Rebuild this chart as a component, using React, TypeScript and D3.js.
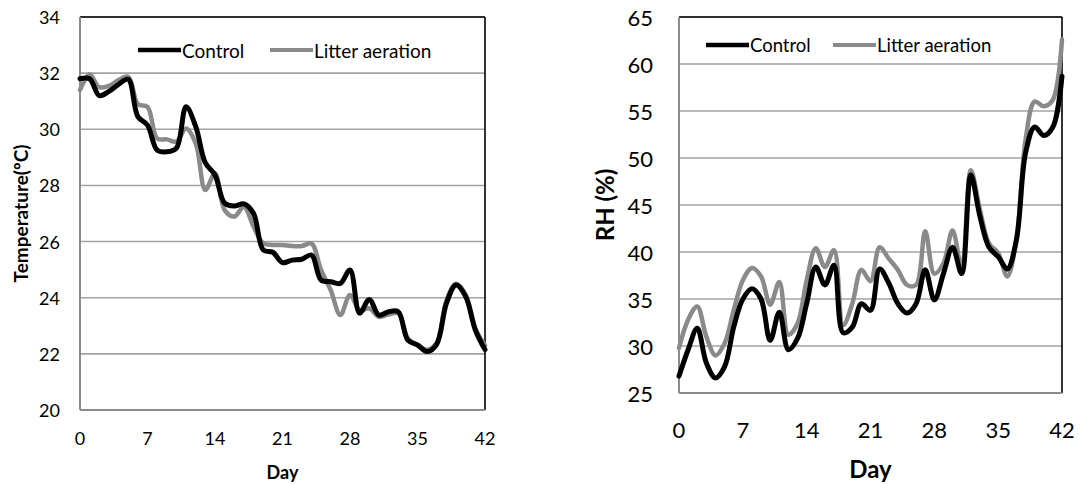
import React from "react";
import * as d3 from "d3";

const days: number[] = d3.range(0, 43);

const tempControl: number[] = [
  31.8, 31.8, 31.2, 31.35, 31.6, 31.78, 30.45, 30.15, 29.26, 29.2,
  29.33, 30.8, 30.1, 28.8, 28.37, 27.37, 27.27, 27.34, 27.0, 25.7,
  25.62, 25.25, 25.34, 25.37, 25.52, 24.63, 24.57, 24.51, 24.99, 23.45,
  23.94, 23.38, 23.5, 23.5, 22.49, 22.32, 22.08, 22.35, 23.8, 24.45,
  24.04, 22.85, 22.15,
];
const tempAeration: number[] = [
  31.4, 31.95, 31.5, 31.55, 31.75, 31.87, 30.9, 30.8, 29.67, 29.64,
  29.56, 30.03, 29.5, 27.84, 28.43, 27.12, 26.89, 27.24, 26.53, 25.94,
  25.88, 25.88, 25.84, 25.84, 25.93, 24.99, 24.27, 23.38, 24.1, 23.56,
  23.62, 23.32, 23.4, 23.45, 22.55, 22.3, 22.15, 22.4, 23.9, 24.5,
  24.1, 22.9, 22.3,
];
const rhControl: number[] = [
  26.8, 29.6, 31.9, 28.2, 26.6, 27.8, 32.0, 35.0, 36.1, 35.0,
  30.6, 33.6, 29.6, 30.8, 34.5, 38.4, 36.5, 38.6, 31.4, 32.0,
  34.5, 33.8, 38.2, 36.7, 34.5, 33.5, 34.5, 38.1, 34.9, 37.7,
  40.5, 37.7, 48.2, 43.8, 40.5, 39.5, 38.2, 41.3, 50.5, 53.3,
  52.4, 53.3, 58.7,
];
const rhAeration: number[] = [
  29.8, 32.8, 34.2, 31.0, 29.0, 30.3, 33.8, 37.0, 38.3, 37.4,
  34.4, 36.8, 31.2, 32.4, 37.0, 40.4, 38.4, 40.2, 32.2, 34.5,
  38.1, 36.9, 40.5, 39.3, 38.1, 36.5, 36.5, 42.2, 37.7, 38.8,
  42.3, 38.3, 48.7, 44.5, 40.9, 39.9, 37.4, 41.3, 51.9, 56.0,
  55.5, 56.2, 62.6,
];

const xTicks: number[] = [0, 7, 14, 21, 28, 35, 42];
const tempTicks: number[] = [20, 22, 24, 26, 28, 30, 32, 34];
const rhTicks: number[] = [25, 30, 35, 40, 45, 50, 55, 60, 65];
const seriesNames: string[] = ["Control", "Litter aeration"];
const seriesColors: string[] = ["#000000", "#8a8a8a"];

const FONT = "Lato, 'Open Sans', sans-serif";

type PanelProps = {
  left: number; right: number; top: number; bottom: number;
  yDomain: [number, number]; yTicks: number[];
  control: number[]; aeration: number[];
  tickSize: number; tickGap: number; xTickY: number;
  yTitle: string; yTitleX: number; yTitleSize: number; xTitleSize: number; xTitleY: number;
  legendY: number; legendX: number[]; legendLine: number; legendSize: number;
};

function Panel(p: PanelProps) {
  const x = d3.scaleLinear().domain([0, 42]).range([p.left, p.right]);
  const y = d3.scaleLinear().domain(p.yDomain).range([p.bottom, p.top]);
  const line = d3
    .line<number>()
    .x((_, i) => x(days[i]))
    .y((v) => y(v))
    .curve(d3.curveCatmullRom.alpha(0.5));
  const series = [p.control, p.aeration];
  return (
    <g>
      {p.yTicks.slice(1).map((t) => (
        <line key={"g" + t} x1={p.left} x2={p.right} y1={y(t)} y2={y(t)} stroke="#a3a3a3" strokeWidth={1.6} />
      ))}
      <line x1={p.left} x2={p.right} y1={p.top} y2={p.top} stroke="#000" strokeWidth={1.6} />
      <line x1={p.right} x2={p.right} y1={p.top} y2={p.bottom} stroke="#000" strokeWidth={1.6} />
      <line x1={p.left} x2={p.left} y1={p.top} y2={p.bottom} stroke="#8c8c8c" strokeWidth={2} />
      <line x1={p.left} x2={p.right} y1={p.bottom} y2={p.bottom} stroke="#8c8c8c" strokeWidth={2} />
      {p.yTicks.map((t) => (
        <text key={"yt" + t} x={p.left - p.tickGap} y={y(t)} textAnchor="end" dominantBaseline="central" fontSize={p.tickSize} fontFamily={FONT} fill="#000">
          {t}
        </text>
      ))}
      {xTicks.map((t) => (
        <text key={"xt" + t} x={x(t)} y={p.xTickY} textAnchor="middle" dominantBaseline="central" fontSize={p.tickSize} fontFamily={FONT} fill="#000">
          {t}
        </text>
      ))}
      {[1, 0].map((i) => (
        <path key={"s" + i} d={line(series[i]) || ""} fill="none" stroke={seriesColors[i]} strokeWidth={i === 0 ? 5 : 4.5} strokeLinejoin="round" strokeLinecap="round" />
      ))}
      {seriesNames.map((n, i) => (
        <g key={"lg" + i}>
          <line x1={p.legendX[i]} x2={p.legendX[i] + p.legendLine} y1={p.legendY} y2={p.legendY} stroke={seriesColors[i]} strokeWidth={i === 0 ? 4.5 : 4} />
          <text x={p.legendX[i] + p.legendLine + 1} y={p.legendY} dominantBaseline="central" fontSize={p.legendSize} fontFamily={FONT} fill="#000">
            {n}
          </text>
        </g>
      ))}
      <text transform={`translate(${p.yTitleX},${(p.top + p.bottom) / 2}) rotate(-90)`} textAnchor="middle" dominantBaseline="central" fontSize={p.yTitleSize} fontWeight="bold" fontFamily={FONT} fill="#000">
        {p.yTitle}
      </text>
      <text x={(p.left + p.right) / 2} y={p.xTitleY} textAnchor="middle" dominantBaseline="central" fontSize={p.xTitleSize} fontWeight="bold" fontFamily={FONT} fill="#000">
        Day
      </text>
    </g>
  );
}

export default function App() {
  return (
    <svg width={1080} height={484} style={{ position: "absolute", left: 0, top: 0, background: "#fff" }}>
      <rect x={0} y={0} width={1080} height={484} fill="#fff" />
      <Panel
        left={80} right={485} top={17} bottom={410}
        yDomain={[20, 34]} yTicks={tempTicks}
        control={tempControl} aeration={tempAeration}
        tickSize={18} tickGap={20} xTickY={438}
        yTitle="Temperature(ºC)" yTitleX={20} yTitleSize={19} xTitleSize={18} xTitleY={472}
        legendY={50} legendX={[138, 270]} legendLine={43} legendSize={19}
      />
      <Panel
        left={679} right={1062} top={17} bottom={393}
        yDomain={[25, 65]} yTicks={rhTicks}
        control={rhControl} aeration={rhAeration}
        tickSize={22} tickGap={26} xTickY={429}
        yTitle="RH (%)" yTitleX={604} yTitleSize={24} xTitleSize={24} xTitleY={468}
        legendY={45} legendX={[706, 833]} legendLine={43} legendSize={18.5}
      />
    </svg>
  );
}
